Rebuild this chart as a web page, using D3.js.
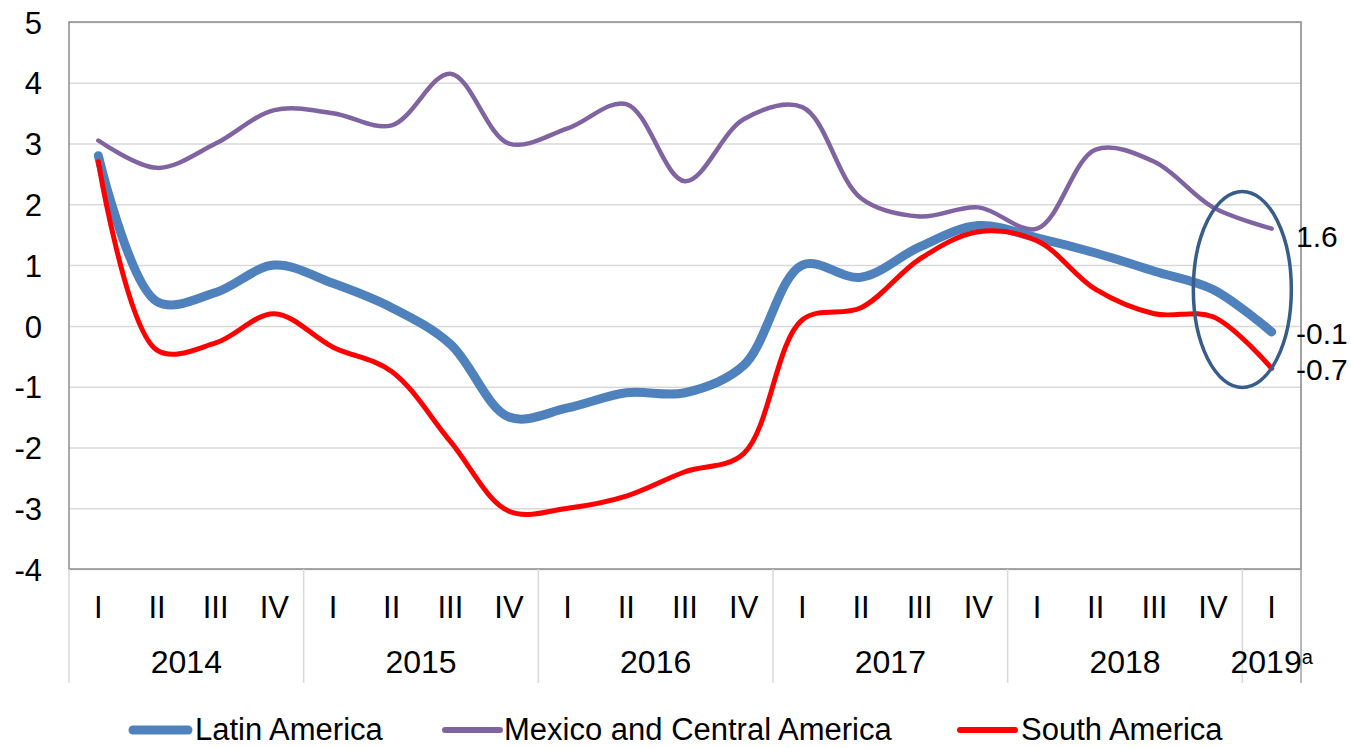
<!DOCTYPE html>
<html>
<head>
<meta charset="utf-8">
<script src="https://cdn.jsdelivr.net/npm/d3@7"></script>
<style>
  body { margin: 0; background: #fff; }
  svg { font-family: "Liberation Sans", Arial, sans-serif; }
  .grid line { stroke: #d9d9d9; stroke-width: 1.5; }
  .grid .domain { display: none; }
  .axis-text text { fill: #000; font-size: 31px; }
</style>
</head>
<body>
<div id="chart-area"></div>
<script>
// chart data (percent)
var quarters = ["I", "II", "III", "IV", "I", "II", "III", "IV", "I", "II", "III", "IV",
                "I", "II", "III", "IV", "I", "II", "III", "IV", "I"];
var years = ["2014", "2015", "2016", "2017", "2018", "2019"];
var quartersPerYear = [4, 4, 4, 4, 4, 1];
var seriesNames = ["Latin America", "Mexico and Central America", "South America"];

var latinAmerica = [2.8, 0.4, 0.55, 1.0, 0.7, 0.3, -0.3, -1.5, -1.35, -1.1, -1.1, -0.65,
                    1.0, 0.8, 1.3, 1.65, 1.45, 1.2, 0.9, 0.6, -0.1];
var mexicoCentralAmerica = [3.05, 2.6, 3.0, 3.55, 3.5, 3.3, 4.15, 3.0, 3.25, 3.65, 2.38, 3.4,
                            3.6, 2.1, 1.8, 1.95, 1.6, 2.9, 2.7, 1.95, 1.6];
var southAmerica = [2.7, -0.4, -0.28, 0.2, -0.35, -0.75, -1.9, -3.05, -3.0, -2.8, -2.4, -2.1,
                    0.1, 0.3, 1.1, 1.55, 1.4, 0.6, 0.2, 0.15, -0.7];
var endLabels = ["-0.1", "1.6", "-0.7"];

var colors = ["#4f81bd", "#8064a2", "#ff0000"];
var widths = [9, 4.5, 5];

var chartWidth = 1351, chartHeight = 748;
var margin = { top: 22, right: 50, bottom: 179, left: 69 };
var width = chartWidth - margin.left - margin.right,
    height = chartHeight - margin.top - margin.bottom;

var svg = d3.select("#chart-area").append("svg")
    .attr("width", chartWidth)
    .attr("height", chartHeight)
    .append("g")
    .attr("transform", "translate(" + margin.left + "," + margin.top + ")");

// scales
var x = d3.scaleBand()
    .domain(d3.range(quarters.length))
    .range([0, width]);

var y = d3.scaleLinear()
    .domain([-4, 5])
    .range([height, 0]);

function cx(i) { return x(i) + x.bandwidth() / 2; }

// gridlines
svg.append("g")
    .attr("class", "grid")
    .call(d3.axisLeft(y).ticks(9).tickSize(-width).tickFormat(""));

// y axis labels (plain hyphen for negatives, like the original)
var yAxisGroup = svg.append("g")
    .attr("class", "axis-text")
    .call(d3.axisLeft(y).ticks(9).tickSize(0).tickPadding(27).tickFormat(d => String(d)));
yAxisGroup.select(".domain").remove();
yAxisGroup.selectAll("text").attr("dy", "0.36em");

// plot frame
svg.append("rect")
    .attr("width", width)
    .attr("height", height)
    .attr("fill", "none")
    .attr("stroke", "#8c8c8c")
    .attr("stroke-width", 1.5);

// right line continues down through the category area
svg.append("line")
    .attr("x1", width).attr("x2", width)
    .attr("y1", 0).attr("y2", height + 114)
    .attr("stroke", "#a0a0a0")
    .attr("stroke-width", 1.5);

// x axis: quarters
var xAxisGroup = svg.append("g")
    .attr("class", "axis-text")
    .attr("transform", "translate(0," + height + ")")
    .call(d3.axisBottom(x).tickSize(0).tickPadding(27).tickFormat(function(i) { return quarters[i]; }));
xAxisGroup.select(".domain").remove();

// year separators and labels
var starts = [0];
quartersPerYear.forEach(function(n, k) { starts.push(starts[k] + n); });
var edge = function(i) { return i < quarters.length ? x(i) : width; };

svg.append("g").selectAll("line")
    .data(starts.slice(0, -1))
    .enter().append("line")
    .attr("x1", d => edge(d)).attr("x2", d => edge(d))
    .attr("y1", height).attr("y2", height + 114)
    .attr("stroke", "#d9d9d9")
    .attr("stroke-width", 1.5);

var yearText = svg.append("g").selectAll("text")
    .data(years)
    .enter().append("text")
    .attr("x", (d, k) => (edge(starts[k]) + edge(starts[k + 1])) / 2)
    .attr("y", height + 104)
    .attr("text-anchor", "middle")
    .attr("font-size", 32)
    .text(d => d);
yearText.filter(d => d === "2019")
    .append("tspan")
    .attr("font-size", 20)
    .attr("dy", -9)
    .text("a");

// lines
var line = d3.line()
    .curve(d3.curveCatmullRom.alpha(0.5))
    .x((d, i) => cx(i))
    .y(d => y(d));

var allSeries = [latinAmerica, mexicoCentralAmerica, southAmerica];
var drawOrder = [1, 0, 2];
drawOrder.forEach(function(s) {
    svg.append("path")
        .datum(allSeries[s])
        .attr("fill", "none")
        .attr("stroke", colors[s])
        .attr("stroke-width", widths[s])
        .attr("stroke-linecap", "round")
        .attr("d", line);
});

// highlight ellipse around the last quarter
svg.append("ellipse")
    .attr("cx", x(quarters.length - 2) + x.bandwidth())
    .attr("cy", y(0.6))
    .attr("rx", 49)
    .attr("ry", 98)
    .attr("fill", "none")
    .attr("stroke", "#385d8a")
    .attr("stroke-width", 3.5);

// end value labels
var last = quarters.length - 1;
var endValues = [latinAmerica[last], mexicoCentralAmerica[last], southAmerica[last]];
svg.append("g").selectAll("text")
    .data(endLabels)
    .enter().append("text")
    .attr("x", width - 5)
    .attr("y", (d, k) => y(endValues[k]))
    .attr("dy", (d, k) => k === 1 ? "0.6em" : "0.4em")
    .attr("font-size", 30)
    .text(d => d);

// legend
var legendX = [64, 376, 891];
var textGap = [62, 59, 61];
var legend = svg.append("g")
    .attr("transform", "translate(0," + (height + 161) + ")");
seriesNames.forEach(function(name, k) {
    legend.append("line")
        .attr("x1", legendX[k]).attr("x2", legendX[k] + 55)
        .attr("stroke", colors[k])
        .attr("stroke-width", k === 0 ? 9 : 6)
        .attr("stroke-linecap", "round");
    legend.append("text")
        .attr("x", legendX[k] + textGap[k])
        .attr("y", 10)
        .attr("font-size", 31)
        .text(name);
});
</script>
</body>
</html>
